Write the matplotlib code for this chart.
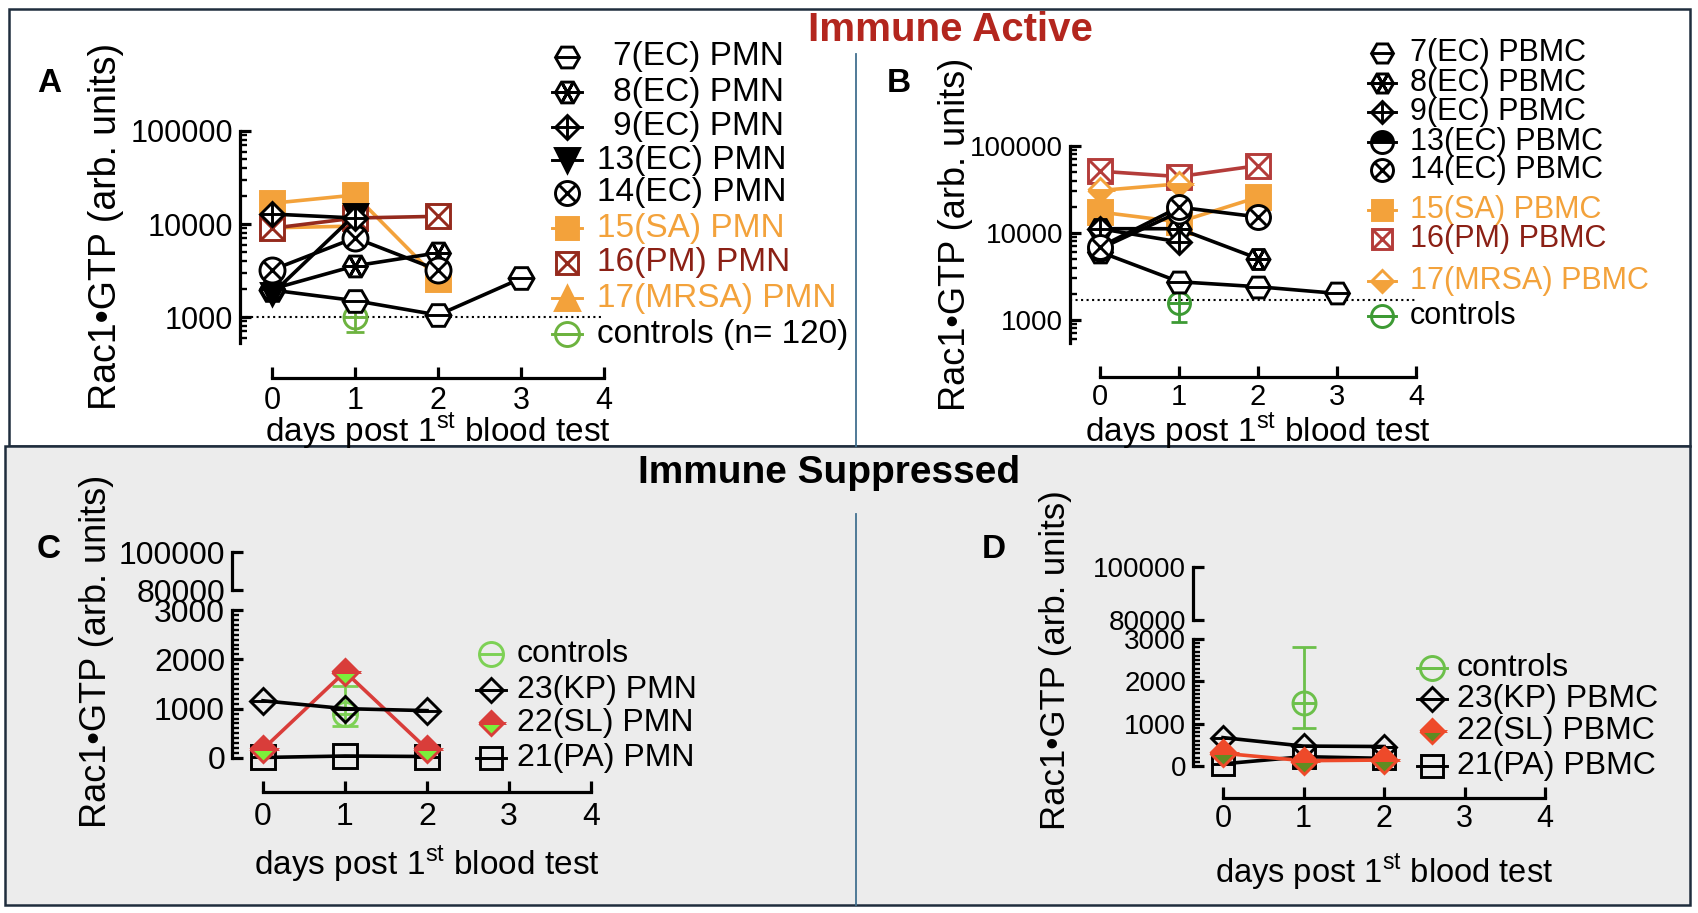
import matplotlib
matplotlib.use("Agg")
import matplotlib.pyplot as plt
from matplotlib.patches import Rectangle
from matplotlib.ticker import FixedLocator, NullFormatter

W, H = 1698, 913
FONT = "Liberation Sans"
plt.rcParams["font.family"] = [FONT, "DejaVu Sans"]
plt.rcParams["mathtext.fontset"] = "custom"
plt.rcParams["mathtext.rm"] = FONT

# ---------------------------------------------------------------
# data (Rac1-GTP, arb. units)
# ---------------------------------------------------------------
days = [0, 1, 2, 3]
day_ticks = [0, 1, 2, 3, 4]

# A: immune active, PMN (log axis)
a_7ec = [1950, 1500, 1050, 2600]
a_8ec = [2000, 3550, 4900]
a_9ec = [12800, 11600]
a_13ec = [1770, 12600]
a_14ec = [3200, 7100, 3200]
a_15sa = [16700, 20500, 2560]
a_16pm = [9000, 11600, 12100]
a_17mrsa = [9100, 9500]
a_ctrl = 1000
a_ctrl_err = [310, 390]
a_cutoff = 1000

# B: immune active, PBMC (log axis)
b_7ec = [6060, 2750, 2410, 2020]
b_8ec = [11200, 11200, 5080]
b_9ec = [11200, 7900]
b_13ec = [6600, 17400]
b_14ec = [6900, 19800, 15300]
b_15sa = [17400, 13400, 25800]
b_16pm = [51300, 44500, 59500]
b_17mrsa = [30800, 36700]
b_ctrl = 1550
b_ctrl_err = [590, 1080]
b_cutoff = 1690

# C: immune suppressed, PMN (broken linear axis)
c_23kp = [1160, 1000, 960]
c_22sl = [180, 1750, 180]
c_21pa = [10, 40, 30]
c_ctrl = 900
c_ctrl_err = [250, 560]

# D: immune suppressed, PBMC
d_23kp = [670, 470, 460]
d_22sl = [300, 125, 140]
d_21pa = [50, 220, 180]
d_ctrl = 1480
d_ctrl_err = [590, 1320]

pmn_labels = ["7(EC) PMN", "8(EC) PMN", "9(EC) PMN", "13(EC) PMN", "14(EC) PMN",
              "15(SA) PMN", "16(PM) PMN", "17(MRSA) PMN", "controls (n= 120)"]
pbmc_labels = ["7(EC) PBMC", "8(EC) PBMC", "9(EC) PBMC", "13(EC) PBMC", "14(EC) PBMC",
               "15(SA) PBMC", "16(PM) PBMC", "17(MRSA) PBMC", "controls"]
c_labels = ["controls", "23(KP) PMN", "22(SL) PMN", "21(PA) PMN"]
d_labels = ["controls", "23(KP) PBMC", "22(SL) PBMC", "21(PA) PBMC"]

# colours
ORANGE = "#f3a23b"
DKRED = "#952a1d"
DKRED_TXT = "#8b2015"
RED_B = "#b43c3a"
TITLE_RED = "#b3261e"
GREEN_A = "#6db33f"
GREEN_B = "#3d9a34"
GREEN_C = "#7dd155"
GREEN_D = "#6cc04a"
SL_RED_C, SL_GRN_C = "#d93d3a", "#7cef3a"
SL_RED_D, SL_GRN_D = "#ee4a2a", "#5f8c22"
BOX = "#1f2d3d"
DIVIDER = "#42708f"

fig = plt.figure(figsize=(W / 100, H / 100), dpi=100)

# background boxes in pixel coords
bg = fig.add_axes([0, 0, 1, 1])
bg.set_xlim(0, W)
bg.set_ylim(H, 0)
bg.axis("off")
bg.set_zorder(-1)
bg.add_patch(Rectangle((9, 9), 1681, 437, facecolor="white", edgecolor=BOX, lw=1.8))
bg.add_patch(Rectangle((5, 446), 1685, 459, facecolor="#ececec", edgecolor=BOX, lw=1.8))
bg.plot([856, 856], [54, 446], color=DIVIDER, lw=1.3)
bg.plot([856, 856], [514, 905], color=DIVIDER, lw=1.3)

# overlay for text / legends in pixel coords
ov = fig.add_axes([0, 0, 1, 1])
ov.set_xlim(0, W)
ov.set_ylim(H, 0)
ov.axis("off")
ov.patch.set_visible(False)
ov.set_zorder(10)


def mark(ax, x, y, kind, col, size, face="white", alt="white", z=4):
    s = size * 0.72
    base = dict(ls="none", mec=col, mew=2.1, clip_on=False, zorder=z)

    def put(m, ms, fc="none", **kw):
        ax.plot(x, y, marker=m, ms=ms, mfc=fc, **base, **kw)

    if kind == "hex":
        put("H", s, face); put("_", s)
    elif kind == "hexstar":
        put("H", s, face); put((6, 2, 30), s)
    elif kind == "diaplus":
        put("D", s / 1.414, face); put("+", s)
    elif kind == "tridown":
        put("v", s, col)
    elif kind == "triup":
        put("^", s, col)
    elif kind == "circx":
        put("o", s, face); put("x", s * 0.707)
    elif kind == "square":
        put("s", s * 0.95, col)
    elif kind == "squarex":
        put("s", s * 0.95, face); put("x", s * 0.95)
    elif kind == "circ":
        put("o", s, face); put("_", s)
    elif kind == "circhalf":
        put("o", s, col, fillstyle="top", mfcalt=alt)
    elif kind == "dia":
        put("D", s / 1.414, face); put("_", s)
    elif kind == "diahalf":
        put("D", s / 1.414, col, fillstyle="bottom", mfcalt=alt)
    elif kind == "diasl":
        put("D", s / 1.414, face, fillstyle="bottom", mfcalt=col)
    elif kind == "sqline":
        put("s", s * 0.95, face); put("_", s)


def series(ax, vals, kind, col, size, lc=None, face="white", alt="white", z=3):
    x = days[:len(vals)]
    ax.plot(x, vals, "-", color=lc or col, lw=2.6, zorder=z, clip_on=False)
    mark(ax, x, vals, kind, col, size, face, alt, z=z + 0.5)


def controls(ax, mean, err, col, size, cap, z=2):
    ax.errorbar([1], [mean], yerr=[[err[0]], [err[1]]], fmt="none", ecolor=col,
                elinewidth=2, capsize=cap, capthick=2, zorder=z, clip_on=False)
    mark(ax, [1], [mean], "circ", col, size, face="none", z=z + 0.5)


def px_axes(l, t, r, b):
    ax = fig.add_axes([l / W, 1 - b / H, (r - l) / W, (b - t) / H])
    ax.set_facecolor("none")
    for s in ("top", "right"):
        ax.spines[s].set_visible(False)
    for s in ("left", "bottom"):
        ax.spines[s].set_linewidth(2.3)
    return ax


def log_axes(l, t, r, b, x0, per, ybot, spine_bot, ysize, xsize, xpad):
    ax = px_axes(l, t, r, b)
    ax.set_xlim((l - x0) / per, (r - x0) / per)
    ax.set_yscale("log")
    ax.set_ylim(ybot, 1e5)
    ax.spines["left"].set_bounds(spine_bot, 1e5)
    ax.spines["bottom"].set_bounds(0, 4)
    ax.set_xticks(day_ticks)
    ax.set_yticks([1000, 10000, 100000])
    ax.set_yticklabels(["1000", "10000", "100000"])
    minors = [m * 10 ** e for e in (2, 3, 4) for m in range(2, 10) if m * 10 ** e >= spine_bot]
    ax.yaxis.set_minor_locator(FixedLocator(minors))
    ax.yaxis.set_minor_formatter(NullFormatter())
    ax.tick_params(axis="y", which="major", direction="in", length=8, width=2.3,
                   labelsize=ysize, pad=5)
    ax.tick_params(axis="y", which="minor", direction="in", length=5, width=1.7)
    ax.tick_params(axis="x", direction="in", length=8, width=2.3, labelsize=xsize, pad=xpad)
    return ax


def broken_axes(l, t_up, b_up, t, b, r, x0, per, zero_y, px_per_k, ysize, xsize, xpad):
    xl = ((l - x0) / per, (r - x0) / per)
    up = px_axes(l, t_up, r, b_up)
    up.set_xlim(*xl)
    up.set_ylim(80000, 100000)
    up.spines["bottom"].set_visible(False)
    up.set_xticks([])
    up.set_yticks([80000, 100000])
    up.set_yticklabels(["80000", "100000"])
    up.tick_params(axis="y", direction="in", length=8, width=2.3, labelsize=ysize, pad=5)
    lo = px_axes(l, t, r, b)
    lo.set_xlim(*xl)
    lo.set_ylim(-(b - zero_y) / px_per_k * 1000, 3000)
    lo.spines["left"].set_bounds(0, 3000)
    lo.spines["bottom"].set_bounds(0, 4)
    lo.set_xticks(day_ticks)
    lo.set_yticks([0, 1000, 2000, 3000])
    lo.yaxis.set_minor_locator(FixedLocator([v for v in range(100, 3000, 100) if v % 1000]))
    lo.tick_params(axis="y", which="major", direction="in", length=8, width=2.3,
                   labelsize=ysize, pad=5)
    lo.tick_params(axis="y", which="minor", direction="in", length=5, width=1.7)
    lo.tick_params(axis="x", direction="in", length=8, width=2.3, labelsize=xsize, pad=xpad)
    return up, lo


def legend(x_mark, x_text, rows, labels, kinds, cols, tcols, size, fsize,
           faces=None, alts=None, indent=0, lines=None):
    for i, lab in enumerate(labels):
        y = rows[i]
        face = faces[i] if faces else "white"
        alt = alts[i] if alts else "white"
        if lines is None or lines[i]:
            ov.plot([x_mark - 0.62 * size, x_mark + 0.62 * size], [y, y],
                    color=cols[i], lw=2.1, zorder=11)
        mark(ov, [x_mark], [y], kinds[i], cols[i], size, face, alt, z=12)
        xt = x_text + (indent if lab[1] == "(" else 0)
        ov.text(xt, y, lab, ha="left", va="center", fontsize=fsize, color=tcols[i])


XLAB = "days post 1$^{\\mathrm{st}}$ blood test"
YLAB = "Rac1\u2022GTP (arb. units)"

# ---------------------------- panel A ----------------------------
axA = log_axes(240, 131, 612, 378, 272, 83, 221, 525, 22, 22, 6)
axA.plot([axA.get_xlim()[0], 4], [a_cutoff, a_cutoff], ":", color="k", lw=1.5, zorder=1)
controls(axA, a_ctrl, a_ctrl_err, GREEN_A, 23, 6.5)
series(axA, a_15sa, "square", ORANGE, 25, z=3)
series(axA, a_17mrsa, "triup", ORANGE, 23, z=3.2)
series(axA, a_16pm, "squarex", DKRED, 26, z=3.4)
series(axA, a_7ec, "hex", "k", 25, z=4)
series(axA, a_8ec, "hexstar", "k", 24, z=4.2)
series(axA, a_14ec, "circx", "k", 25, z=4.4)
series(axA, a_13ec, "tridown", "k", 23, z=4.6)
series(axA, a_9ec, "diaplus", "k", 24, z=4.8)

# ---------------------------- panel B ----------------------------
axB = log_axes(1070, 146, 1422, 377, 1100, 79, 221, 544, 20, 21, 4)
axB.plot([axB.get_xlim()[0], 4], [b_cutoff, b_cutoff], ":", color="k", lw=1.5, zorder=1)
controls(axB, b_ctrl, b_ctrl_err, GREEN_B, 22, 5.5)
series(axB, b_16pm, "squarex", RED_B, 26, z=3)
series(axB, b_17mrsa, "diahalf", ORANGE, 24, z=3.2)
series(axB, b_15sa, "square", ORANGE, 25, z=3.4)
series(axB, b_7ec, "hex", "k", 24, z=4)
series(axB, b_8ec, "hexstar", "k", 23, z=4.2)
series(axB, b_9ec, "diaplus", "k", 23, z=4.4)
series(axB, b_13ec, "circhalf", "k", 23, face="k", z=4.6)
series(axB, b_14ec, "circx", "k", 24, z=4.8)

# ---------------------------- panel C ----------------------------
axCu, axC = broken_axes(232, 552, 590, 610, 792, 600, 263, 82, 758, 49.3, 23, 23, 7)
controls(axC, c_ctrl, c_ctrl_err, GREEN_C, 24, 9.5)
series(axC, c_21pa, "sqline", "k", 25, face="none", z=3)
series(axC, c_22sl, "diasl", SL_RED_C, 26, face=SL_GRN_C, z=3.6)
series(axC, c_23kp, "dia", "k", 26, face="none", z=4)

# ---------------------------- panel D ----------------------------
axDu, axD = broken_axes(1193, 567, 620, 639, 798, 1560, 1223, 80.5, 766, 42.3, 20, 22, 4)
controls(axD, d_ctrl, d_ctrl_err, GREEN_D, 23, 8.4)
series(axD, d_23kp, "dia", "k", 24, face="none", z=3)
series(axD, d_21pa, "sqline", "k", 24, face="none", z=3.3)
series(axD, d_22sl, "diasl", SL_RED_D, 25, face=SL_GRN_D, z=3.6)

# ---------------------------- legends ----------------------------
kinds_a = ["hex", "hexstar", "diaplus", "tridown", "circx", "square", "squarex", "triup", "circ"]
kinds_b = ["hex", "hexstar", "diaplus", "circhalf", "circx", "square", "squarex", "diahalf", "circ"]
lines_ab = [False, True, True, True, False, True, False, True, True]
legend(567, 597, [57, 92, 127, 160, 193, 228, 263, 298, 334], pmn_labels, kinds_a,
       ["k"] * 5 + [ORANGE, DKRED, ORANGE, GREEN_A],
       ["k"] * 5 + [ORANGE, DKRED_TXT, ORANGE, "k"], 24, 24,
       faces=["white"] * 8 + ["none"], indent=16, lines=lines_ab)
legend(1382, 1410, [53, 83, 112, 142, 170, 210, 239, 281, 316], pbmc_labels, kinds_b,
       ["k"] * 5 + [ORANGE, RED_B, ORANGE, GREEN_B],
       ["k"] * 5 + [ORANGE, DKRED_TXT, ORANGE, "k"], 22, 22,
       faces=["white", "white", "white", "k", "white", "white", "white", "white", "none"],
       lines=lines_ab)
legend(491, 517, [654, 690, 723, 758], c_labels, ["circ", "dia", "diasl", "sqline"],
       [GREEN_C, "k", SL_RED_C, "k"], ["k"] * 4, 24, 23,
       faces=["none", "none", SL_GRN_C, "none"], lines=[False, True, False, True])
legend(1432, 1457, [668, 699, 731, 766], d_labels, ["circ", "dia", "diasl", "sqline"],
       [GREEN_D, "k", SL_RED_D, "k"], ["k"] * 4, 24, 23,
       faces=["none", "none", SL_GRN_D, "none"], lines=[True, True, False, True])

# ---------------------------- text ----------------------------
ov.text(950, 30, "Immune Active", ha="center", va="center", fontsize=29,
        fontweight="bold", color=TITLE_RED)
ov.text(829, 473, "Immune Suppressed", ha="center", va="center", fontsize=28,
        fontweight="bold", color="k")
for lab, x, y in [("A", 49, 83), ("B", 899, 83), ("C", 49, 550), ("D", 994, 550)]:
    ov.text(x, y, lab, ha="center", va="center", fontsize=24, fontweight="bold")
for x, y, fs in [(106, 226, 27), (956, 234, 26), (97, 651, 26), (1056, 660, 25)]:
    ov.text(x, y, YLAB, rotation=90, ha="center", va="center", fontsize=fs)
for x, y, fs in [(438, 431, 24), (1258, 431, 24), (427, 864, 24), (1384, 872, 23.5)]:
    ov.text(x, y, XLAB, ha="center", va="center", fontsize=fs)

fig.savefig("out.png", dpi=100)
